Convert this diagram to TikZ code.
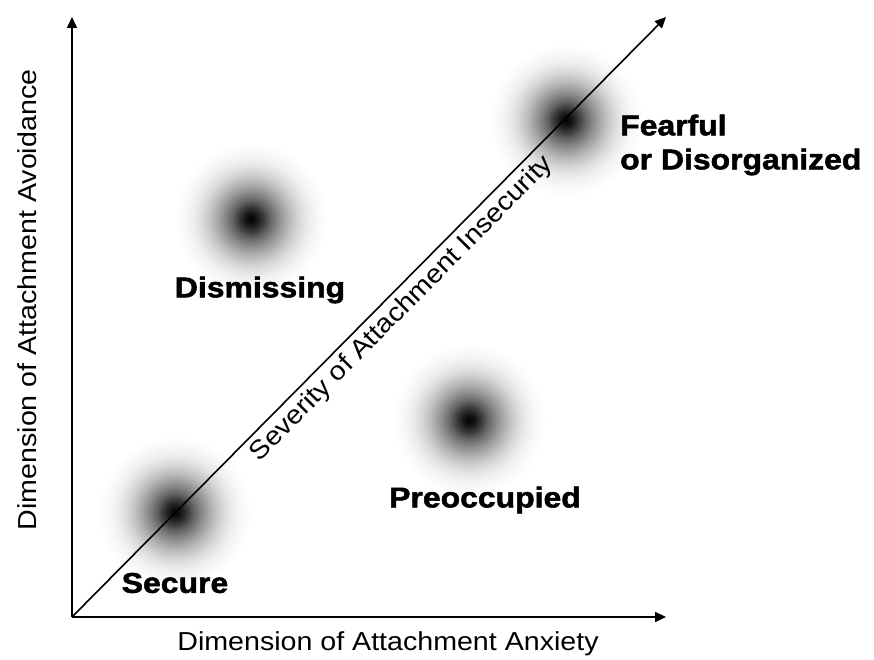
\documentclass[tikz,border=0pt]{standalone}
\usepackage{fontspec}
\setmainfont{Liberation Sans}
\newfontfamily\axisfont[FakeStretch=1.1]{Liberation Sans}
\newfontfamily\stylefont[FakeStretch=1.12,FakeBold=1.8]{Liberation Sans Bold}
\usetikzlibrary{arrows.meta}
% soft dark spot marking each attachment style
\pgfdeclareradialshading{blob}{\pgfpoint{0bp}{0bp}}{%
  color(0bp)=(black);color(2bp)=(black!90);color(4bp)=(black!76);
  color(6bp)=(black!60);color(9bp)=(black!42);color(12bp)=(black!27);
  color(15bp)=(black!15);color(18bp)=(black!7);color(21bp)=(black!2.5);
  color(24bp)=(white);color(50bp)=(white)}
\begin{document}
\begin{tikzpicture}[x=1pt,y=1pt,
  axis/.style={line width=2pt,-{Triangle[length=11pt,width=10pt]}},
  spot/.style={circle,minimum size=160pt,inner sep=0pt,shading=blob},
  stylelabel/.style={font=\stylefont\fontsize{28.5}{34}\selectfont,inner sep=0pt},
  axislabel/.style={font=\axisfont\fontsize{26}{30}\selectfont,inner sep=0pt}]
\useasboundingbox (0,0) rectangle (874,659);

% spots
\node[spot] (secure) at (175,147) {};
\node[spot] (dism) at (251,440) {};
\node[spot] (preo) at (469,239) {};
\node[spot] (fear) at (566,539) {};

% axes
\coordinate (O) at (72,42);
\coordinate (ytip) at (72,642);
\coordinate (xtip) at (666,42);
\coordinate (dtip) at (666,642);
\draw[axis] (O) -- (ytip);
\draw[axis] (O) -- (xtip);
\draw[axis,line width=1.6pt] (O) -- (dtip);

% style labels
\node[stylelabel] (lsec) at (175,76) {Secure};
\node[stylelabel] (ldis) at (260,369) {Dismissing};
\node[stylelabel] (lpre) at (485,159) {Preoccupied};
\node[stylelabel,anchor=west,align=left] (lfea) at (620,514) {Fearful\\or Disorganized};

% axis labels
\node[axislabel,rotate=45.3] (lsev) at (402,350) {Severity of Attachment Insecurity};
\node[axislabel] (lanx) at (388,15) {Dimension of Attachment Anxiety};
\node[axislabel,rotate=90] (lavo) at (27,359) {Dimension of Attachment Avoidance};
\end{tikzpicture}
\end{document}
